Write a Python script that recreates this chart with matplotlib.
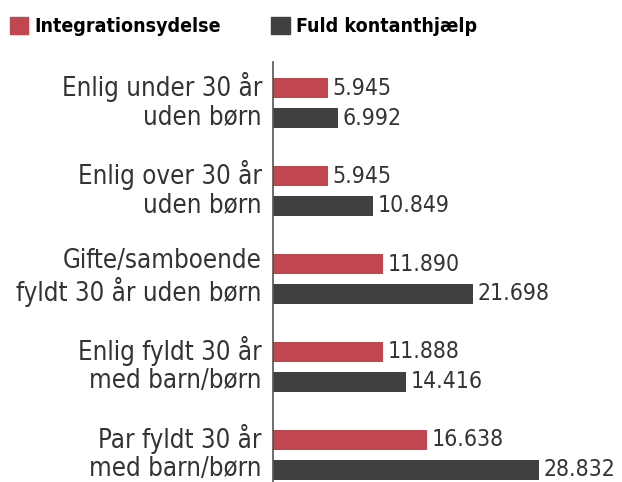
import matplotlib.pyplot as plt
from matplotlib import font_manager
from matplotlib.patches import Patch
from matplotlib.transforms import ScaledTranslation

categories = [
    "Enlig under 30 år\nuden børn",
    "Enlig over 30 år\nuden børn",
    "Gifte/samboende\nfyldt 30 år uden børn",
    "Enlig fyldt 30 år\nmed barn/børn",
    "Par fyldt 30 år\nmed barn/børn",
]
integration = [5945, 5945, 11890, 11888, 16638]
kontant = [6992, 10849, 21698, 14416, 28832]
series_names = ["Integrationsydelse", "Fuld kontanthjælp"]

RED = "#c0474f"
DARK = "#404040"
TXT = "#333333"

# look for a narrow font, otherwise fall back to Lato
fonts = font_manager.fontManager.ttflist
narrow = [f for f in fonts if f.stretch in ("condensed", "semi-condensed", "extra-condensed")
          or "Condensed" in f.name or "Narrow" in f.name]
if narrow:
    fam = narrow[0].name
    stretch = narrow[0].stretch
    scale = 1.0
else:
    fam = "Lato"
    stretch = "normal"
    scale = 0.93

plt.rcParams["font.family"] = [fam, "DejaVu Sans"]
plt.rcParams["font.stretch"] = stretch

fig = plt.figure(figsize=(6.22, 4.82), dpi=100)
ax = fig.add_axes([0.439, 0.0, 0.561, 0.871])

pos = list(range(len(categories)))
off = 0.17
h = 0.225
ax.barh([p - off for p in pos], integration, height=h, color=RED)
ax.barh([p + off for p in pos], kontant, height=h, color=DARK)

def fmt(v):
    return f"{v:,}".replace(",", ".")

for p, a, b in zip(pos, integration, kontant):
    ax.text(a + 500, p - off, fmt(a), va="center", ha="left", fontsize=16.5 * scale, color=TXT)
    ax.text(b + 500, p + off, fmt(b), va="center", ha="left", fontsize=16.5 * scale, color=TXT)

ax.set_xlim(0, 37800)
ax.set_ylim(4.31, -0.466)
ax.set_yticks(pos)
ax.set_yticklabels(categories, fontsize=18.5 * scale, color=TXT, linespacing=1.12, ha="right")
ax.tick_params(axis="y", length=0, pad=8)
shift = ScaledTranslation(0, 6 / 100, fig.dpi_scale_trans)
for lab in ax.get_yticklabels():
    lab.set_transform(lab.get_transform() + shift)
ax.set_xticks([])
for s in ["top", "right", "bottom"]:
    ax.spines[s].set_visible(False)
ax.spines["left"].set_color("#555555")
ax.spines["left"].set_linewidth(1.2)

handles = [Patch(color=RED), Patch(color=DARK)]
fig.legend(handles, series_names, loc="upper left", bbox_to_anchor=(10 / 622, 1 - 17 / 482),
           ncol=2, frameon=False, borderpad=0, borderaxespad=0,
           handlelength=0.95, handleheight=0.95,
           handletextpad=0.3, columnspacing=2.6,
           prop={"weight": "bold", "size": 14 * scale})

fig.savefig("out.png", dpi=100)
